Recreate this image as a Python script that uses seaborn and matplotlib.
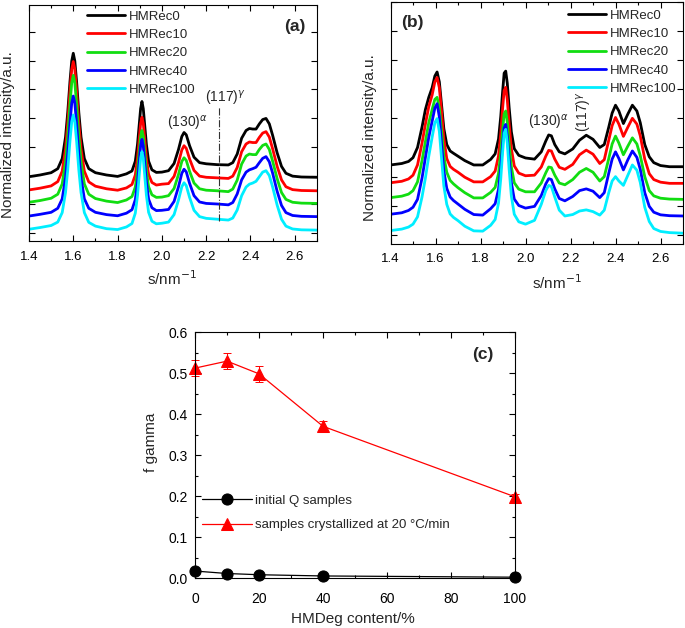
import matplotlib
matplotlib.use('Agg')
import matplotlib.pyplot as plt
from matplotlib.ticker import MultipleLocator
import seaborn as sns

# series shared by panels (a) and (b)
series_names = ['HMRec0', 'HMRec10', 'HMRec20', 'HMRec40', 'HMRec100']
series_colors = ['#000000', '#ff0000', '#11dd11', '#0000ff', '#00eeff']

# panel (a): normalized intensity profiles (offset stacked)
s_a = [1.40, 1.45, 1.50, 1.53, 1.55, 1.565, 1.575, 1.585, 1.593, 1.60,
       1.607, 1.615, 1.625, 1.635, 1.65, 1.67, 1.70, 1.75, 1.80, 1.84,
       1.865, 1.88, 1.89, 1.898, 1.904, 1.91, 1.916, 1.922, 1.93, 1.94,
       1.955, 1.975, 2.00, 2.03, 2.055, 2.075, 2.09, 2.10, 2.11, 2.125,
       2.145, 2.17, 2.20, 2.25, 2.30, 2.32, 2.34, 2.36, 2.38, 2.395,
       2.41, 2.425, 2.44, 2.455, 2.47, 2.485, 2.50, 2.52, 2.54, 2.56,
       2.59, 2.63, 2.70]
a_rec0 = [1.96, 2.02, 2.10, 2.24, 2.59, 3.34, 4.20, 5.27, 5.99, 6.26,
          5.99, 5.27, 4.20, 3.34, 2.59, 2.24, 2.10, 2.02, 1.97, 2.06,
          2.16, 2.50, 3.09, 3.80, 4.33, 4.58, 4.33, 3.80, 3.09, 2.50,
          2.20, 2.11, 2.12, 2.17, 2.42, 2.91, 3.36, 3.50, 3.42, 3.04,
          2.64, 2.45, 2.41, 2.38, 2.37, 2.45, 2.75, 3.30, 3.57, 3.64,
          3.62, 3.62, 3.80, 3.95, 3.99, 3.80, 3.40, 2.80, 2.32, 2.08,
          1.98, 1.95, 1.94]
a_rec10 = [1.50, 1.56, 1.64, 1.79, 2.15, 2.93, 3.83, 4.94, 5.70, 5.97,
           5.70, 4.94, 3.83, 2.93, 2.15, 1.78, 1.63, 1.54, 1.49, 1.57,
           1.69, 2.02, 2.61, 3.31, 3.81, 4.03, 3.81, 3.31, 2.61, 2.04,
           1.76, 1.67, 1.70, 1.72, 1.97, 2.45, 2.89, 3.04, 2.95, 2.58,
           2.18, 1.98, 1.94, 1.92, 1.90, 1.98, 2.28, 2.83, 3.10, 3.17,
           3.15, 3.15, 3.33, 3.48, 3.53, 3.34, 2.93, 2.33, 1.85, 1.61,
           1.51, 1.48, 1.47]
a_rec20 = [1.07, 1.13, 1.21, 1.35, 1.71, 2.48, 3.37, 4.48, 5.23, 5.49,
           5.23, 4.48, 3.37, 2.48, 1.71, 1.35, 1.20, 1.11, 1.06, 1.15,
           1.27, 1.60, 2.18, 2.85, 3.36, 3.57, 3.36, 2.85, 2.18, 1.61,
           1.33, 1.24, 1.25, 1.30, 1.55, 2.04, 2.49, 2.62, 2.53, 2.15,
           1.74, 1.54, 1.49, 1.47, 1.44, 1.53, 1.84, 2.40, 2.68, 2.75,
           2.73, 2.73, 2.91, 3.05, 3.10, 2.91, 2.50, 1.90, 1.41, 1.17,
           1.07, 1.04, 1.03]
a_rec40 = [0.59, 0.65, 0.72, 0.86, 1.19, 1.93, 2.77, 3.81, 4.52, 4.77,
           4.52, 3.81, 2.77, 1.93, 1.19, 0.86, 0.72, 0.64, 0.60, 0.69,
           0.81, 1.16, 1.77, 2.50, 3.03, 3.26, 3.03, 2.50, 1.78, 1.18,
           0.88, 0.78, 0.79, 0.82, 1.10, 1.61, 2.08, 2.22, 2.13, 1.73,
           1.30, 1.08, 1.03, 1.01, 0.98, 1.06, 1.36, 1.85, 2.12, 2.20,
           2.24, 2.29, 2.45, 2.60, 2.66, 2.48, 2.08, 1.46, 0.96, 0.71,
           0.61, 0.58, 0.57]
a_rec100 = [0.13, 0.19, 0.26, 0.38, 0.71, 1.41, 2.20, 3.20, 3.87, 4.11,
            3.87, 3.20, 2.20, 1.41, 0.71, 0.37, 0.24, 0.15, 0.12, 0.21,
            0.33, 0.69, 1.31, 2.05, 2.60, 2.83, 2.60, 2.05, 1.32, 0.72,
            0.41, 0.32, 0.34, 0.38, 0.64, 1.15, 1.61, 1.75, 1.65, 1.24,
            0.79, 0.57, 0.51, 0.48, 0.45, 0.52, 0.80, 1.30, 1.60, 1.70,
            1.74, 1.80, 1.96, 2.12, 2.17, 2.00, 1.60, 0.98, 0.48, 0.24,
            0.14, 0.11, 0.10]
marker_117 = 2.257
marker_117_span = (0.42, 4.39)

# panel (b)
s_b = [1.40, 1.45, 1.48, 1.50, 1.52, 1.54, 1.555, 1.57, 1.585, 1.597,
       1.607, 1.617, 1.627, 1.637, 1.65, 1.665, 1.68, 1.70, 1.73, 1.77,
       1.81, 1.845, 1.865, 1.88, 1.89, 1.898, 1.905, 1.912, 1.919, 1.927,
       1.937, 1.95, 1.97, 2.00, 2.04, 2.07, 2.09, 2.103, 2.115, 2.13,
       2.15, 2.175, 2.21, 2.24, 2.27, 2.30, 2.33, 2.35, 2.37, 2.385,
       2.40, 2.415, 2.435, 2.455, 2.475, 2.495, 2.51, 2.53, 2.55, 2.57,
       2.60, 2.64, 2.70]
b_rec0 = [2.40, 2.45, 2.52, 2.65, 3.00, 3.70, 4.30, 4.72, 5.05, 5.45,
          5.59, 5.25, 4.45, 3.65, 3.10, 2.88, 2.80, 2.70, 2.55, 2.40,
          2.40, 2.59, 2.78, 3.29, 4.07, 4.89, 5.55, 5.62, 5.20, 4.39,
          3.54, 2.96, 2.73, 2.64, 2.60, 2.85, 3.22, 3.43, 3.40, 3.10,
          2.85, 2.78, 2.95, 3.25, 3.42, 3.28, 3.00, 3.10, 3.70, 4.18,
          4.45, 4.25, 3.82, 4.15, 4.45, 4.25, 3.85, 3.10, 2.68, 2.48,
          2.38, 2.34, 2.34]
b_rec10 = [1.79, 1.84, 1.92, 2.05, 2.40, 3.15, 3.80, 4.40, 4.80, 5.25,
           5.40, 5.05, 4.20, 3.30, 2.62, 2.35, 2.25, 2.15, 1.98, 1.82,
           1.82, 2.00, 2.19, 2.71, 3.49, 4.32, 4.95, 5.06, 4.64, 3.82,
           2.96, 2.37, 2.12, 2.03, 2.05, 2.33, 2.70, 2.90, 2.88, 2.60,
           2.32, 2.25, 2.42, 2.75, 2.91, 2.77, 2.45, 2.58, 3.25, 3.75,
           4.03, 3.80, 3.38, 3.70, 4.00, 3.80, 3.40, 2.60, 2.10, 1.90,
           1.81, 1.77, 1.77]
b_rec20 = [1.28, 1.33, 1.40, 1.52, 1.82, 2.55, 3.20, 3.85, 4.30, 4.65,
           4.72, 4.35, 3.55, 2.70, 2.15, 1.87, 1.75, 1.62, 1.45, 1.27,
           1.27, 1.46, 1.63, 2.11, 2.83, 3.58, 4.15, 4.25, 3.87, 3.12,
           2.34, 1.79, 1.57, 1.48, 1.48, 1.78, 2.13, 2.33, 2.31, 2.05,
           1.78, 1.72, 1.90, 2.15, 2.28, 2.15, 1.85, 2.00, 2.62, 3.12,
           3.39, 3.15, 2.75, 3.05, 3.33, 3.12, 2.72, 2.00, 1.52, 1.34,
           1.26, 1.23, 1.22]
b_rec40 = [0.71, 0.76, 0.84, 0.95, 1.22, 1.95, 2.65, 3.35, 3.90, 4.35,
           4.50, 4.05, 3.10, 2.20, 1.60, 1.30, 1.18, 1.06, 0.88, 0.70,
           0.68, 0.90, 1.07, 1.57, 2.30, 3.09, 3.67, 3.79, 3.38, 2.60,
           1.80, 1.23, 1.01, 0.92, 0.98, 1.35, 1.75, 1.93, 1.90, 1.58,
           1.25, 1.17, 1.32, 1.52, 1.58, 1.50, 1.28, 1.45, 2.12, 2.60,
           2.85, 2.62, 2.23, 2.58, 2.88, 2.66, 2.25, 1.45, 0.98, 0.78,
           0.69, 0.66, 0.65]
b_rec100 = [0.15, 0.20, 0.27, 0.37, 0.62, 1.30, 1.95, 2.70, 3.35, 3.85,
            3.99, 3.55, 2.60, 1.68, 1.05, 0.72, 0.60, 0.49, 0.30, 0.14,
            0.13, 0.33, 0.53, 1.09, 1.93, 2.81, 3.49, 3.62, 3.15, 2.27,
            1.34, 0.71, 0.45, 0.37, 0.50, 1.05, 1.52, 1.70, 1.66, 1.30,
            0.85, 0.65, 0.70, 0.82, 0.86, 0.80, 0.68, 0.85, 1.45, 1.85,
            2.00, 1.85, 1.70, 2.05, 2.40, 2.22, 1.80, 0.95, 0.46, 0.22,
            0.12, 0.08, 0.06]

# panel (c): gamma fraction vs HMDeg content
hmdeg = [0, 10, 20, 40, 100]
f_initial = [0.017, 0.011, 0.008, 0.005, 0.002]
f_cryst = [0.512, 0.529, 0.498, 0.370, 0.198]
f_cryst_err = [0.020, 0.020, 0.019, 0.014, 0.007]

sns.set_style('ticks')
plt.rcParams['font.family'] = ['Liberation Sans', 'DejaVu Sans']
plt.rcParams['mathtext.fontset'] = 'dejavusans'
plt.rcParams['axes.edgecolor'] = 'black'
plt.rcParams['axes.linewidth'] = 0.8
plt.rcParams['xtick.color'] = 'black'
plt.rcParams['ytick.color'] = 'black'

fig = plt.figure(figsize=(6.85, 6.28), dpi=100)


def profile_panel(ax, s, curves, ylim, xpad):
    for name, col, vals in zip(series_names, series_colors, curves):
        sns.lineplot(x=s, y=vals, color=col, linewidth=2, label=name, ax=ax,
                     solid_joinstyle='round', solid_capstyle='round')
    ax.set_xlim(1.4, 2.7)
    ax.set_ylim(*ylim)
    ax.xaxis.set_major_locator(MultipleLocator(0.2))
    ax.xaxis.set_minor_locator(MultipleLocator(0.1))
    ax.yaxis.set_major_locator(MultipleLocator(1.0))
    ax.tick_params(which='both', direction='in', top=True, right=True,
                   labelleft=False, labelsize=9.5, width=0.8)
    ax.tick_params(axis='x', which='major', length=4, pad=xpad)
    ax.tick_params(axis='x', which='minor', length=2.5)
    ax.tick_params(axis='y', which='major', length=4)
    ax.set_ylabel('Normalized intensity/a.u.', fontsize=11)
    ax.set_xlabel('s/nm$^{-1}$', fontsize=11)


legend_kw = dict(loc='upper left', frameon=False, fontsize=9.5, handlelength=2.9,
                 handletextpad=0.25, labelspacing=0.46, borderpad=0, borderaxespad=0)

# (a)
ax_a = fig.add_axes([0.0423, 0.6162, 0.4204, 0.3758])
profile_panel(ax_a, s_a, [a_rec0, a_rec10, a_rec20, a_rec40, a_rec100], (-0.28, 7.94), 7.5)
ax_a.vlines(marker_117, *marker_117_span, colors='#333333', linestyles='-.', linewidth=0.8)
ax_a.text(2.022, 3.66, r'(130)$^{\alpha}$', fontsize=10, ha='left', va='baseline')
ax_a.text(2.193, 4.53, r'(117)$^{\gamma}$', fontsize=10, ha='left', va='baseline')
ax_a.text(0.924, 0.911, '(a)', transform=ax_a.transAxes, fontsize=12.5, fontweight='bold',
          ha='center', va='center')
ax_a.legend(bbox_to_anchor=(0.201, 0.977), **legend_kw)
ax_a.yaxis.set_label_coords(-0.05, 0.45)
ax_a.xaxis.set_label_coords(0.497, -0.12)

# (b)
ax_b = fig.add_axes([0.5701, 0.6115, 0.4270, 0.3858])
profile_panel(ax_b, s_b, [b_rec0, b_rec10, b_rec20, b_rec40, b_rec100], (-0.31, 8.0), 6.5)
ax_b.text(2.010, 3.71, r'(130)$^{\alpha}$', fontsize=10, ha='left', va='baseline')
ax_b.text(2.264, 3.53, r'(117)$^{\gamma}$', fontsize=10, rotation=90, ha='center', va='bottom')
ax_b.text(0.074, 0.913, '(b)', transform=ax_b.transAxes, fontsize=12.5, fontweight='bold',
          ha='center', va='center')
ax_b.legend(bbox_to_anchor=(0.607, 0.968), **legend_kw)
ax_b.yaxis.set_label_coords(-0.046, 0.44)
ax_b.xaxis.set_label_coords(0.57, -0.12)

# (c)
ax_c = fig.add_axes([0.2847, 0.0796, 0.4672, 0.3917])
sns.lineplot(x=hmdeg, y=f_initial, color='black', marker='o', markersize=8,
             markeredgecolor='black', linewidth=0.9, label='initial Q samples',
             ax=ax_c, clip_on=False)
ax_c.errorbar(hmdeg, f_cryst, yerr=f_cryst_err, fmt='none', ecolor='red',
              elinewidth=0.7, capsize=3, capthick=0.7, clip_on=False)
sns.lineplot(x=hmdeg, y=f_cryst, color='red', marker='^', markersize=9,
             markeredgecolor='red', linewidth=0.9,
             label='samples crystallized at 20 \u00b0C/min', ax=ax_c, clip_on=False)
ax_c.set_xlim(0, 100)
ax_c.set_ylim(0, 0.6)
ax_c.xaxis.set_major_locator(MultipleLocator(20))
ax_c.xaxis.set_minor_locator(MultipleLocator(10))
ax_c.yaxis.set_major_locator(MultipleLocator(0.1))
ax_c.yaxis.set_minor_locator(MultipleLocator(0.05))
ax_c.tick_params(which='both', direction='in', top=True, right=True, labelsize=10, width=0.8)
ax_c.tick_params(which='major', length=4.5)
ax_c.tick_params(which='minor', length=2.5)
ax_c.tick_params(axis='x', which='major', pad=10)
ax_c.tick_params(axis='y', which='major', pad=5.5)
ax_c.set_xlabel('HMDeg content/%', fontsize=11)
ax_c.set_ylabel('f gamma', fontsize=11)
ax_c.xaxis.set_label_coords(0.494, -0.138)
ax_c.yaxis.set_label_coords(-0.116, 0.553)
ax_c.text(0.90, 0.91, '(c)', transform=ax_c.transAxes, fontsize=12.5, fontweight='bold',
          ha='center', va='center')
ax_c.legend(loc='upper left', bbox_to_anchor=(0.022, 0.338), frameon=False, fontsize=9.5,
            handlelength=3.8, handletextpad=0.25, labelspacing=0.9, numpoints=1,
            borderpad=0, borderaxespad=0)

fig.savefig('out.png', dpi=100)
